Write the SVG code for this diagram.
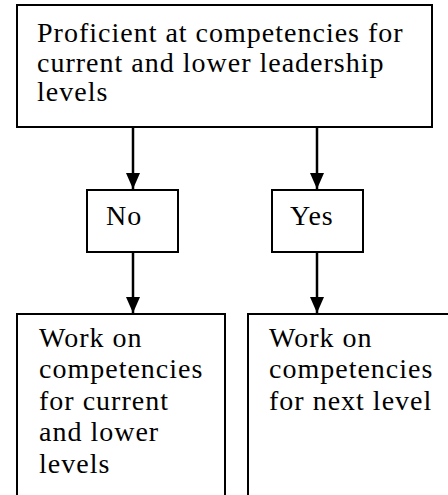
<svg xmlns="http://www.w3.org/2000/svg" width="448" height="495" viewBox="0 0 448 495">
<defs>
<style>
.box{fill:#fff;stroke:#000;stroke-width:2}
.t{font-family:"Liberation Serif","Times New Roman",serif;font-size:28px;fill:#000;letter-spacing:1px}
.c{stroke:#000;stroke-width:2.5;fill:none}
</style>
<marker id="ah" markerUnits="userSpaceOnUse" markerWidth="16" markerHeight="14" refX="16" refY="7" orient="auto">
<path d="M0,0 L16,7 L0,14 Z" fill="#000"/>
</marker>
</defs>
<rect width="448" height="495" fill="#fff"/>
<g id="connectors">
<path class="c" d="M133,128 V189" marker-end="url(#ah)"/>
<path class="c" d="M317,128 V189" marker-end="url(#ah)"/>
<path class="c" d="M133,252 V313" marker-end="url(#ah)"/>
<path class="c" d="M317,252 V313" marker-end="url(#ah)"/>
</g>
<g id="top">
<rect class="box" x="17" y="5" width="415" height="122"/>
<text class="t" x="37" y="42">Proficient at competencies for</text>
<text class="t" x="37" y="71.5">current and lower leadership</text>
<text class="t" x="37" y="101">levels</text>
</g>
<g id="no">
<rect class="box" x="87" y="190" width="91" height="62"/>
<text class="t" x="106" y="225">No</text>
</g>
<g id="yes">
<rect class="box" x="272" y="190" width="91" height="62"/>
<text class="t" x="290" y="225">Yes</text>
</g>
<g id="work-current">
<rect class="box" x="17" y="314" width="208" height="200"/>
<text class="t" x="39" y="347">Work on</text>
<text class="t" x="39" y="378">competencies</text>
<text class="t" x="39" y="410">for current</text>
<text class="t" x="39" y="441">and lower</text>
<text class="t" x="39" y="473">levels</text>
</g>
<g id="work-next">
<rect class="box" x="248" y="314" width="220" height="200"/>
<text class="t" x="269" y="347">Work on</text>
<text class="t" x="269" y="378">competencies</text>
<text class="t" x="269" y="410">for next level</text>
</g>
</svg>
